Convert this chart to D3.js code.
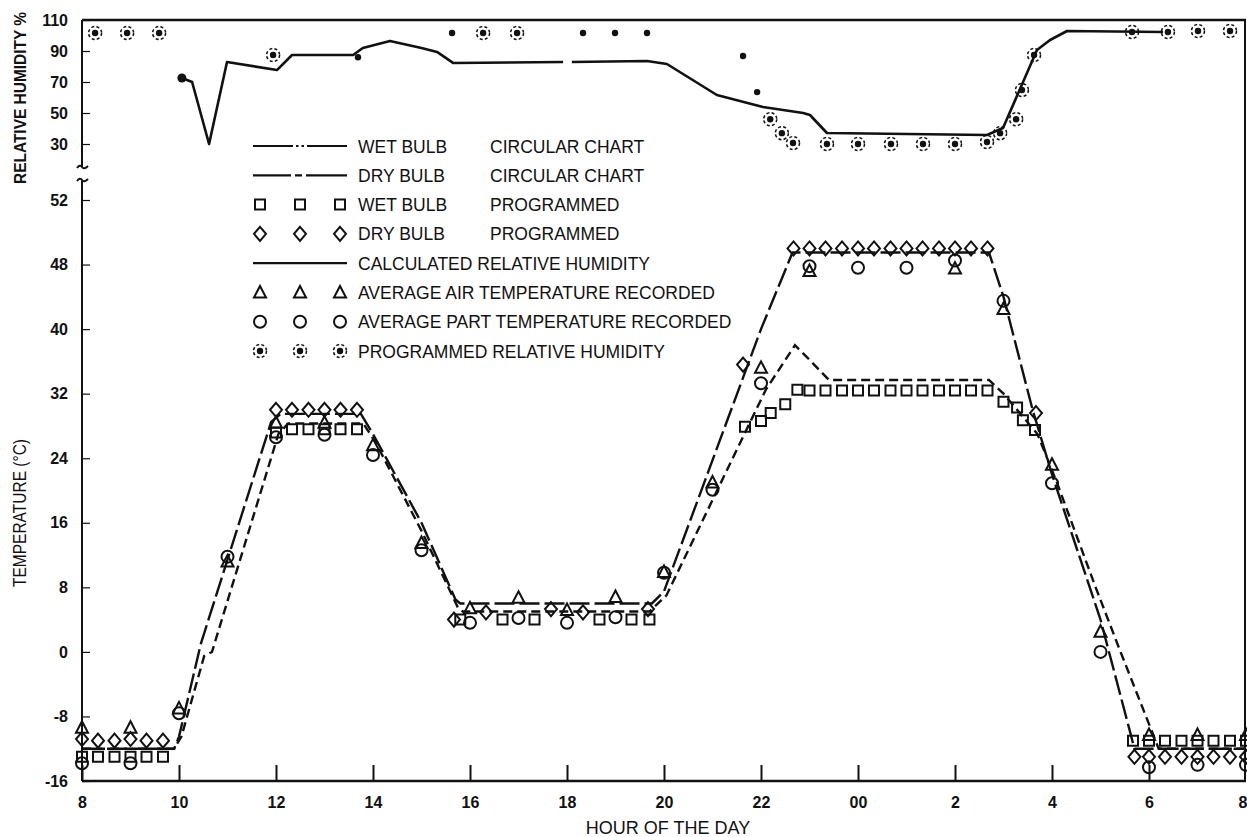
<!DOCTYPE html>
<html>
<head>
<meta charset="utf-8">
<script src="https://cdn.jsdelivr.net/npm/d3@7"></script>
<style>
  body { margin: 0; background: #fff; }
  svg text { font-family: "Liberation Sans", Arial, sans-serif; fill: #111; }
</style>
</head>
<body>
<svg id="chart" width="1247" height="837"></svg>
<script>
// ---- data (hours counted from 8 o'clock, 24 = midnight) ----

// x axis
const hourTicks = [8, 10, 12, 14, 16, 18, 20, 22, 24, 26, 28, 30, 32];
const hourTickLabels = ["8", "10", "12", "14", "16", "18", "20", "22", "00", "2", "4", "6", "8"];

// temperature axis (the top label on the original reads 52)
const tempTicks = [-16, -8, 0, 8, 16, 24, 32, 40, 48, 56];
const tempTickLabels = ["-16", "-8", "0", "8", "16", "24", "32", "40", "48", "52"];

// relative humidity axis
const rhTicks = [30, 50, 70, 90, 110];

// dry bulb, circular chart
const dryChartHours = [8, 9.9, 10.0, 10.45, 11.9, 12.1, 13.75, 14.0, 15.0, 15.7, 15.8, 19.75, 20.0, 22.0, 22.65, 26.7, 27.0, 27.6, 28.0, 29.0, 29.6, 29.7, 32];
const dryChartTemps = [-12, -12, -10.5, 1, 28.5, 29.5, 29.5, 27, 16, 6.5, 6, 6, 7.5, 40, 49.5, 49.5, 44, 30, 22, 4, -9.7, -12, -12];

// wet bulb, circular chart
const wetChartHours = [8, 9.9, 10.05, 10.52, 10.68, 12.05, 12.25, 13.8, 14.05, 15.0, 15.75, 15.85, 19.7, 20.05, 22.1, 22.7, 22.95, 23.4, 26.7, 27.0, 27.7, 28.1, 28.9, 29.4, 30.05, 30.2, 32];
const wetChartTemps = [-12, -12, -10.5, -0.5, 0, 27, 28.3, 28.3, 26, 15, 5.5, 5, 5, 7, 32.5, 38, 36.5, 33.7, 33.7, 32, 27, 21, 8, 0.2, -9.7, -12, -12];

// wet bulb, programmed (squares)
const wetProgHours = [8, 8.33, 8.67, 9, 9.33, 9.67, 12, 12.33, 12.67, 13, 13.33, 13.67, 15.8, 16.67, 17.33, 18.67, 19.33, 19.7, 21.67, 22, 22.2, 22.5, 22.75, 23, 23.33, 23.67, 24, 24.33, 24.67, 25, 25.33, 25.67, 26, 26.33, 26.67, 27, 27.28, 27.4, 27.65, 29.67, 30, 30.33, 30.67, 31, 31.33, 31.67, 32];
const wetProgTemps = [-13, -13, -13, -13, -13, -13, 27.2, 27.6, 27.6, 27.6, 27.6, 27.6, 4, 4, 4, 4, 4, 4, 27.9, 28.6, 29.6, 30.7, 32.5, 32.4, 32.4, 32.4, 32.4, 32.4, 32.4, 32.4, 32.4, 32.4, 32.4, 32.4, 32.4, 31, 30.3, 28.7, 27.5, -11, -11, -11, -11, -11, -11, -11, -11];

// dry bulb, programmed (diamonds)
const dryProgHours = [8, 8.33, 8.67, 9, 9.33, 9.67, 12, 12.33, 12.67, 13, 13.33, 13.67, 15.67, 16.33, 17.67, 18.33, 19.67, 21.63, 22.67, 23, 23.33, 23.67, 24, 24.33, 24.67, 25, 25.33, 25.67, 26, 26.33, 26.67, 27.67, 29.7, 30, 30.33, 30.67, 31, 31.33, 31.67, 32];
const dryProgTemps = [-10.8, -11, -11, -10.8, -11, -11, 30, 30, 30, 30, 30, 30, 4, 4.9, 5.3, 4.9, 5.3, 35.6, 50, 50, 50, 50, 50, 50, 50, 50, 50, 50, 50, 50, 50, 29.6, -13, -13, -13, -13, -13, -13, -13, -13];

// average air temperature recorded (triangles)
const airHours = [8, 9, 10, 11, 12, 13, 14, 15, 16, 17, 18, 19, 20, 21, 22, 23, 26, 27, 28, 29, 30, 31, 32];
const airTemps = [-9.4, -9.4, -7, 11.2, 28.4, 28.4, 25.6, 13.5, 5.4, 6.7, 5.2, 6.8, 9.9, 21, 35.2, 47.2, 47.5, 42.5, 23.2, 2.5, -10.3, -10.3, -10.3];

// average part temperature recorded (circles)
const partHours = [8, 9, 10, 11, 12, 13, 14, 15, 16, 17, 18, 19, 20, 21, 22, 23, 24, 25, 26, 27, 28, 29, 30, 31, 32];
const partTemps = [-13.8, -13.8, -7.6, 11.8, 26.6, 26.9, 24.4, 12.6, 3.6, 4.2, 3.6, 4.3, 9.8, 20.1, 33.3, 47.8, 47.6, 47.6, 48.5, 43.5, 20.9, 0, -14.3, -14, -14];

// calculated relative humidity (null = gap in the trace)
const rhCalcHours = [10.06, 10.27, 10.62, 10.99, 12.02, 12.33, 13.59, 13.79, 14.35, 15.0, 15.32, 15.65, 17.92, 18.0, 18.1, 19.65, 20.06, 21.09, 22.04, 22.87, 23.01, 23.36, 26.66, 26.99, 27.69, 27.96, 28.31, 30.29];
const rhCalcValues = [72.6, 70, 30, 82.9, 77.7, 87.4, 87.4, 91.9, 96.5, 92, 89.4, 82.3, 82.9, null, 82.9, 83.5, 81.6, 61.6, 53.9, 50, 48.7, 37.1, 35.8, 40.3, 90.6, 97.1, 102.9, 102.3];

// programmed relative humidity: ringed points and plain dots
const rhProgHours = [8.27, 8.93, 9.59, 11.94, 16.27, 16.97, 22.19, 22.43, 22.66, 23.36, 24.0, 24.68, 25.34, 26.0, 26.66, 26.93, 27.26, 27.38, 27.63, 29.65, 30.39, 31.01, 31.67];
const rhProgValues = [101.6, 101.6, 101.6, 87.4, 101.6, 101.6, 46, 37, 30.6, 30, 30, 30, 30, 30, 31.3, 37, 46, 64.8, 87.4, 102.3, 102.3, 102.9, 102.9];
const rhDotHours = [13.69, 15.63, 18.33, 18.99, 19.65, 21.63, 21.92];
const rhDotValues = [86, 101.6, 101.6, 101.6, 101.6, 86.8, 63.5];

// legend
const legendNames = ["WET BULB", "DRY BULB", "WET BULB", "DRY BULB", "CALCULATED RELATIVE HUMIDITY",
  "AVERAGE AIR TEMPERATURE RECORDED", "AVERAGE PART TEMPERATURE RECORDED", "PROGRAMMED RELATIVE HUMIDITY"];
const legendSources = ["CIRCULAR CHART", "CIRCULAR CHART", "PROGRAMMED", "PROGRAMMED", "", "", "", ""];
const legendKinds = ["wetLine", "dryLine", "square", "diamond", "rhLine", "triangle", "circle", "rhProg"];

// ---- scales ----
const x = d3.scaleLinear().domain([8, 32]).range([82, 1246]);
const yT = d3.scaleLinear().domain([-16, 56]).range([781, 200]);
const yRH = d3.scaleLinear().domain([30, 110]).range([144, 20]);

const svg = d3.select("#chart");
const ink = "#111";

// ---- frame and axes ----
const xAxis = d3.axisBottom(x)
  .tickValues(hourTicks)
  .tickFormat((d, i) => hourTickLabels[i])
  .tickSize(-16)
  .tickPadding(16);
const gx = svg.append("g").attr("transform", "translate(0,781)").call(xAxis);
gx.select(".domain").remove();
gx.selectAll(".tick line").attr("stroke", ink).attr("stroke-width", 2);
gx.selectAll(".tick text").attr("font-size", 16).attr("font-weight", "bold");
// last tick sits on the right border: drop its mark, keep its label inside the page
const lastTick = gx.selectAll(".tick").filter(d => d === 32);
lastTick.select("line").remove();
lastTick.select("text").attr("text-anchor", "end").attr("x", 1);

const tAxis = d3.axisLeft(yT)
  .tickValues(tempTicks)
  .tickFormat((d, i) => tempTickLabels[i])
  .tickSize(-8)
  .tickPadding(14);
const gt = svg.append("g").attr("transform", "translate(82,0)").call(tAxis);
gt.select(".domain").remove();
gt.selectAll(".tick line").attr("stroke", ink).attr("stroke-width", 1.2);
gt.selectAll(".tick text").attr("font-size", 16).attr("font-weight", "bold");

const rAxis = d3.axisLeft(yRH)
  .tickValues(rhTicks)
  .tickSize(-8)
  .tickPadding(14);
const gr = svg.append("g").attr("transform", "translate(82,0)").call(rAxis);
gr.select(".domain").remove();
gr.selectAll(".tick line").attr("stroke", ink).attr("stroke-width", 1.2);
gr.selectAll(".tick text").attr("font-size", 16).attr("font-weight", "bold");

const frame = svg.append("g").attr("stroke", ink).attr("fill", "none");
frame.append("line").attr("x1", 82).attr("x2", 1246).attr("y1", 781).attr("y2", 781).attr("stroke-width", 2.5);
frame.append("line").attr("x1", 82).attr("x2", 1246).attr("y1", 20).attr("y2", 20).attr("stroke-width", 2.5);
frame.append("line").attr("x1", 1245).attr("x2", 1245).attr("y1", 20).attr("y2", 781).attr("stroke-width", 2);
frame.append("line").attr("x1", 82).attr("x2", 82).attr("y1", 20).attr("y2", 167).attr("stroke-width", 2);
frame.append("line").attr("x1", 82).attr("x2", 82).attr("y1", 181).attr("y2", 781).attr("stroke-width", 2);
// axis break squiggles
frame.append("path").attr("d", "M77,168 Q80,164 82,167 T88,166").attr("stroke-width", 2);
frame.append("path").attr("d", "M77,181 Q80,177 82,180 T88,179").attr("stroke-width", 2);

// axis titles
svg.append("text").attr("x", 668).attr("y", 834).attr("text-anchor", "middle")
  .attr("font-size", 18).text("HOUR OF THE DAY");
svg.append("text").attr("transform", "translate(26,98) rotate(-90)").attr("text-anchor", "middle")
  .attr("font-size", 16).attr("font-weight", "bold")
  .attr("textLength", 172).attr("lengthAdjust", "spacingAndGlyphs").text("RELATIVE HUMIDITY %");
svg.append("text").attr("transform", "translate(26,513) rotate(-90)").attr("text-anchor", "middle")
  .attr("font-size", 17.5)
  .attr("textLength", 148).attr("lengthAdjust", "spacingAndGlyphs").text("TEMPERATURE (°C)");

// ---- lines ----
const tempLine = d3.line().x(d => x(d[0])).y(d => yT(d[1]));
const rhLine = d3.line().defined(d => d[1] != null).x(d => x(d[0])).y(d => yRH(d[1]));

const dryDash = "20,5";
const wetDash = "9,5";

svg.append("path").datum(d3.zip(dryChartHours, dryChartTemps))
  .attr("d", tempLine).attr("fill", "none").attr("stroke", ink).attr("stroke-width", 2.4)
  .attr("stroke-dasharray", dryDash);
svg.append("path").datum(d3.zip(wetChartHours, wetChartTemps))
  .attr("d", tempLine).attr("fill", "none").attr("stroke", ink).attr("stroke-width", 2.4)
  .attr("stroke-dasharray", wetDash);
svg.append("path").datum(d3.zip(rhCalcHours, rhCalcValues))
  .attr("d", rhLine).attr("fill", "none").attr("stroke", ink).attr("stroke-width", 2.6)
  .attr("stroke-linejoin", "round");
// heavy blob where the humidity trace starts
svg.append("circle").attr("cx", x(rhCalcHours[0])).attr("cy", yRH(rhCalcValues[0]))
  .attr("r", 4.5).attr("fill", ink);

// ---- markers ----
const shapes = {
  square: "M-5,-5H5V5H-5Z",
  diamond: "M0,-7L6,0L0,7L-6,0Z",
  triangle: "M0,-6.5L6,5L-6,5Z",
  circle: "M6,0A6,6 0 1,1 -6,0A6,6 0 1,1 6,0Z"
};

function drawMarks(hours, vals, yScale, kind) {
  svg.append("g").selectAll("path")
    .data(d3.zip(hours, vals))
    .join("path")
    .attr("transform", d => `translate(${x(d[0])},${yScale(d[1])})`)
    .attr("d", shapes[kind])
    .attr("fill", "none")
    .attr("stroke", ink)
    .attr("stroke-width", 2);
}

function drawRhProg(g, pts, ringed) {
  const sel = g.selectAll("g").data(pts).join("g")
    .attr("transform", d => `translate(${d[0]},${d[1]})`);
  sel.append("circle").attr("r", 3.2).attr("fill", ink);
  if (ringed) {
    sel.append("circle").attr("r", 6.5).attr("fill", "none").attr("stroke", ink)
      .attr("stroke-width", 1.5).attr("stroke-dasharray", "3,2.2");
  }
}

drawMarks(dryProgHours, dryProgTemps, yT, "diamond");
drawMarks(wetProgHours, wetProgTemps, yT, "square");
drawMarks(airHours, airTemps, yT, "triangle");
drawMarks(partHours, partTemps, yT, "circle");

drawRhProg(svg.append("g"), d3.zip(rhProgHours, rhProgValues).map(d => [x(d[0]), yRH(d[1])]), true);
drawRhProg(svg.append("g"), d3.zip(rhDotHours, rhDotValues).map(d => [x(d[0]), yRH(d[1])]), false);

// ---- legend ----
const legend = svg.append("g");
const rowY = d3.scaleLinear().domain([0, 7]).range([146, 351]);
const symX = [260, 300, 340];

legendKinds.forEach((kind, i) => {
  const y = rowY(i);
  if (kind === "wetLine" || kind === "dryLine" || kind === "rhLine") {
    legend.append("line").attr("x1", 253).attr("x2", 347).attr("y1", y).attr("y2", y)
      .attr("stroke", ink).attr("stroke-width", 2.2)
      .attr("stroke-dasharray", kind === "wetLine" ? "40,3,2.5,3,2.5,3,60" : kind === "dryLine" ? "38,4,7,4,60" : null);
  } else if (kind === "rhProg") {
    drawRhProg(legend.append("g"), symX.map(sx => [sx, y]), true);
  } else {
    legend.append("g").selectAll("path").data(symX).join("path")
      .attr("transform", sx => `translate(${sx},${y})`)
      .attr("d", shapes[kind]).attr("fill", "none").attr("stroke", ink).attr("stroke-width", 2);
  }
  legend.append("text").attr("x", 358).attr("y", y + 6.5).attr("font-size", 17.5).text(legendNames[i]);
  if (legendSources[i]) {
    legend.append("text").attr("x", 490).attr("y", y + 6.5).attr("font-size", 17.5).text(legendSources[i]);
  }
});
</script>
</body>
</html>
